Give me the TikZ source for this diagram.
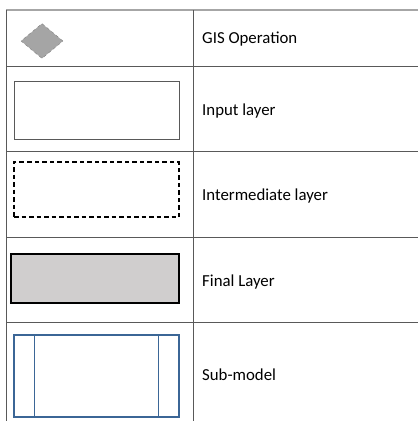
\documentclass[tikz,border=0pt]{standalone}
\usepackage{fontspec}
\setmainfont{Carlito}
\usepackage{tikz}
\usetikzlibrary{positioning, shapes.geometric}
\definecolor{gridgray}{HTML}{595959}
\definecolor{topgray}{HTML}{A6A6A6}
\definecolor{opgray}{HTML}{A5A5A5}
\definecolor{finalgray}{HTML}{D0CECE}
\definecolor{subblue}{HTML}{3B6696}
\tikzset{
	gridline/.style= {
		gridgray,
		line width=0.9pt
	},
	gisop/.style= {
		diamond,
		draw=gray,
		dashed,
		fill=opgray,
		inner sep=0pt,
		minimum width=42pt,
		minimum height=35pt
	},
	layerbox/.style= {
		rectangle,
		inner sep=0pt,
		minimum width=165pt,
		minimum height=58pt
	},
	legendtext/.style= {
		anchor=base west,
		inner sep=0pt,
		font=\fontsize{16.8pt}{20pt}\selectfont
	}
}

\begin{document}
\begin{tikzpicture}[x=1pt, y=-1pt]

	\useasboundingbox (0,0) rectangle (418,421);

	% table rules
	\draw[topgray, line width=1.8pt] (6,10) -- (418,10);
	\foreach \y in {66,151,237,322}
	{
		\draw[gridline] (6,\y) -- (418,\y);
	}
	\draw[gridline] (6,10) -- (6,421);
	\draw[gridline] (193,10) -- (193,421);

	% symbols
	\node (op)[gisop] at (42,41) {};
	\node (input)[layerbox, draw=gridgray, line width=0.8pt] at (96.5,110) {};
	\node (inter)[layerbox, draw=black, dash pattern=on 4.5pt off 3pt, line width=1.1pt, minimum height=55pt] at (96.5,189.5) {};
	\node (final)[layerbox, draw=black, fill=finalgray, line width=1.8pt, minimum width=168pt, minimum height=49pt] at (95,278.5) {};
	\node (sub)[layerbox, draw=subblue, line width=1.2pt, minimum height=82pt] at (96.5,376) {};
	\draw[subblue, line width=1.2pt] ([xshift=21pt]sub.north west) -- ([xshift=21pt]sub.south west);
	\draw[subblue, line width=1.2pt] ([xshift=-21pt]sub.north east) -- ([xshift=-21pt]sub.south east);

	% labels
	\foreach[count=\i from 1] \txt/\yb in {GIS Operation/43.7, Input layer/115, Intermediate layer/200, Final Layer/286, Sub-model/380}
	{
		\node (name\i)[legendtext] at (202,\yb) {\txt};
	}

\end{tikzpicture}
\end{document}
